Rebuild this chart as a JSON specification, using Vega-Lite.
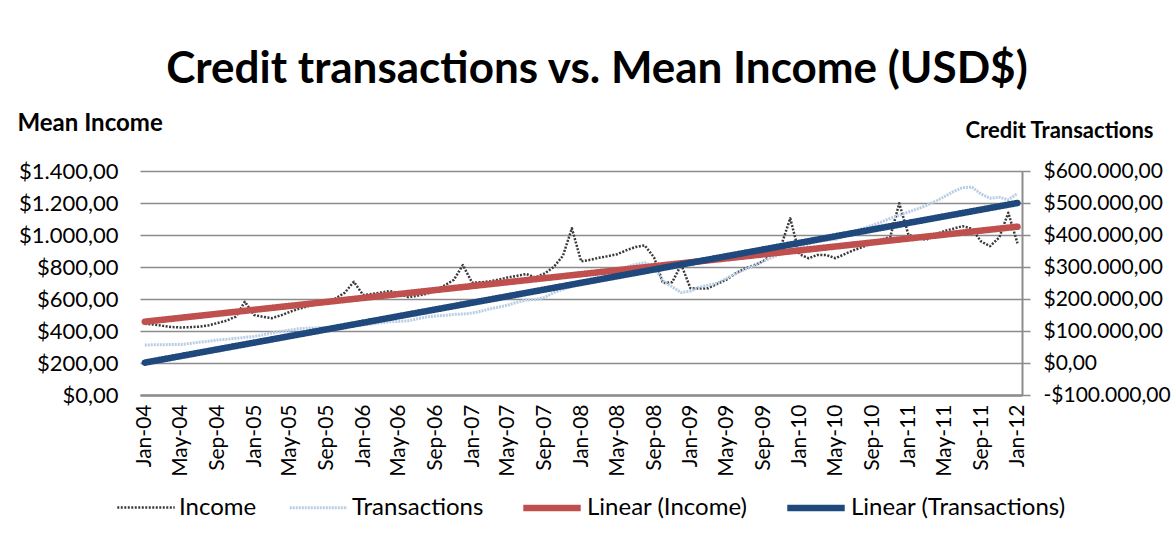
{
  "$schema": "https://vega.github.io/schema/vega-lite/v6.json",
  "width": 882,
  "height": 224,
  "autosize": "none",
  "padding": {"left": 140, "top": 171, "right": 154, "bottom": 145},
  "background": "white",
  "config": {
    "view": {"stroke": null},
    "font": "Lato",
    "axis": {"labelFont": "Lato", "titleFont": "Lato", "labelColor": "#000000", "titleColor": "#000000"}
  },
  "title": {
    "text": "Credit transactions vs. Mean Income (USD$)",
    "font": "Lato",
    "fontSize": 44,
    "fontWeight": "bold",
    "color": "#000000",
    "anchor": "middle",
    "dx": 16,
    "offset": 19
  },
  "datasets": {
    "m": [
      {"d": "2004-01", "i": 445, "t": 56000},
      {"d": "2004-02", "i": 440, "t": 57000},
      {"d": "2004-03", "i": 432, "t": 57000},
      {"d": "2004-04", "i": 425, "t": 58000},
      {"d": "2004-05", "i": 422, "t": 58000},
      {"d": "2004-06", "i": 424, "t": 61000},
      {"d": "2004-07", "i": 427, "t": 65000},
      {"d": "2004-08", "i": 435, "t": 68000},
      {"d": "2004-09", "i": 450, "t": 72000},
      {"d": "2004-10", "i": 465, "t": 74000},
      {"d": "2004-11", "i": 490, "t": 77000},
      {"d": "2004-12", "i": 583, "t": 80000},
      {"d": "2005-01", "i": 500, "t": 83000},
      {"d": "2005-02", "i": 488, "t": 88000},
      {"d": "2005-03", "i": 480, "t": 94000},
      {"d": "2005-04", "i": 498, "t": 99000},
      {"d": "2005-05", "i": 520, "t": 103000},
      {"d": "2005-06", "i": 540, "t": 107000},
      {"d": "2005-07", "i": 555, "t": 109000},
      {"d": "2005-08", "i": 570, "t": 110000},
      {"d": "2005-09", "i": 588, "t": 111000},
      {"d": "2005-10", "i": 604, "t": 112000},
      {"d": "2005-11", "i": 640, "t": 114000},
      {"d": "2005-12", "i": 708, "t": 116000},
      {"d": "2006-01", "i": 625, "t": 119000},
      {"d": "2006-02", "i": 632, "t": 122000},
      {"d": "2006-03", "i": 640, "t": 126000},
      {"d": "2006-04", "i": 650, "t": 129000},
      {"d": "2006-05", "i": 635, "t": 130000},
      {"d": "2006-06", "i": 612, "t": 132000},
      {"d": "2006-07", "i": 620, "t": 138000},
      {"d": "2006-08", "i": 632, "t": 144000},
      {"d": "2006-09", "i": 655, "t": 147000},
      {"d": "2006-10", "i": 685, "t": 149000},
      {"d": "2006-11", "i": 720, "t": 152000},
      {"d": "2006-12", "i": 812, "t": 153000},
      {"d": "2007-01", "i": 702, "t": 156000},
      {"d": "2007-02", "i": 705, "t": 162000},
      {"d": "2007-03", "i": 710, "t": 169000},
      {"d": "2007-04", "i": 722, "t": 175000},
      {"d": "2007-05", "i": 735, "t": 181000},
      {"d": "2007-06", "i": 745, "t": 190000},
      {"d": "2007-07", "i": 756, "t": 197000},
      {"d": "2007-08", "i": 735, "t": 198000},
      {"d": "2007-09", "i": 760, "t": 205000},
      {"d": "2007-10", "i": 800, "t": 220000},
      {"d": "2007-11", "i": 870, "t": 230000},
      {"d": "2007-12", "i": 1042, "t": 240000},
      {"d": "2008-01", "i": 835, "t": 248000},
      {"d": "2008-02", "i": 845, "t": 254000},
      {"d": "2008-03", "i": 858, "t": 260000},
      {"d": "2008-04", "i": 868, "t": 272000},
      {"d": "2008-05", "i": 880, "t": 288000},
      {"d": "2008-06", "i": 905, "t": 300000},
      {"d": "2008-07", "i": 925, "t": 308000},
      {"d": "2008-08", "i": 935, "t": 313000},
      {"d": "2008-09", "i": 860, "t": 300000},
      {"d": "2008-10", "i": 700, "t": 256000},
      {"d": "2008-11", "i": 705, "t": 238000},
      {"d": "2008-12", "i": 815, "t": 220000},
      {"d": "2009-01", "i": 667, "t": 225000},
      {"d": "2009-02", "i": 665, "t": 237000},
      {"d": "2009-03", "i": 667, "t": 243000},
      {"d": "2009-04", "i": 695, "t": 249000},
      {"d": "2009-05", "i": 720, "t": 264000},
      {"d": "2009-06", "i": 760, "t": 280000},
      {"d": "2009-07", "i": 790, "t": 292000},
      {"d": "2009-08", "i": 810, "t": 303000},
      {"d": "2009-09", "i": 835, "t": 318000},
      {"d": "2009-10", "i": 880, "t": 330000},
      {"d": "2009-11", "i": 935, "t": 341000},
      {"d": "2009-12", "i": 1104, "t": 352000},
      {"d": "2010-01", "i": 880, "t": 362000},
      {"d": "2010-02", "i": 854, "t": 372000},
      {"d": "2010-03", "i": 875, "t": 380000},
      {"d": "2010-04", "i": 875, "t": 384000},
      {"d": "2010-05", "i": 855, "t": 386000},
      {"d": "2010-06", "i": 880, "t": 397000},
      {"d": "2010-07", "i": 905, "t": 410000},
      {"d": "2010-08", "i": 925, "t": 420000},
      {"d": "2010-09", "i": 950, "t": 430000},
      {"d": "2010-10", "i": 970, "t": 440000},
      {"d": "2010-11", "i": 988, "t": 452000},
      {"d": "2010-12", "i": 1198, "t": 462000},
      {"d": "2011-01", "i": 1000, "t": 472000},
      {"d": "2011-02", "i": 985, "t": 482000},
      {"d": "2011-03", "i": 970, "t": 492000},
      {"d": "2011-04", "i": 1005, "t": 505000},
      {"d": "2011-05", "i": 1025, "t": 520000},
      {"d": "2011-06", "i": 1040, "t": 536000},
      {"d": "2011-07", "i": 1055, "t": 548000},
      {"d": "2011-08", "i": 1040, "t": 550000},
      {"d": "2011-09", "i": 960, "t": 528000},
      {"d": "2011-10", "i": 930, "t": 515000},
      {"d": "2011-11", "i": 985, "t": 518000},
      {"d": "2011-12", "i": 1139, "t": 510000},
      {"d": "2012-01", "i": 948, "t": 530000}
    ],
    "trend": [
      {"d": "2004-01", "li": 458, "lt": 1000},
      {"d": "2012-01", "li": 1052, "lt": 500000}
    ]
  },
  "layer": [
    {
      "data": {"name": "m"},
      "mark": {"type": "line", "strokeCap": "butt", "strokeJoin": "round", "strokeWidth": 2.5},
      "encoding": {
        "x": {
          "field": "d", "type": "temporal",
          "scale": {"type": "utc", "domain": [{"year": 2003, "month": 12, "date": 16, "utc": true}, {"year": 2012, "month": 1, "date": 16, "utc": true}]},
          "axis": {
            "orient": "bottom", "title": null, "tickCount": {"interval": "month", "step": 4},
            "format": "%b-%y", "labelAngle": -90, "labelPadding": 9, "labelFontSize": 21,
            "labelOverlap": false, "labelFlush": false, "ticks": false, "grid": false,
            "domainColor": "#8c8c8c", "domainWidth": 2.5
          }
        },
        "y": {
          "field": "i", "type": "quantitative",
          "scale": {"domain": [0, 1400], "nice": false, "zero": false},
          "axis": {
            "orient": "left", "values": [0, 200, 400, 600, 800, 1000, 1200, 1400],
            "grid": true, "gridColor": "#8c8c8c", "gridWidth": 1.5,
            "domain": false, "ticks": false, "labelPadding": 22, "labelFontSize": 22,
            "labelExpr": "'$' + replace(replace(replace(format(datum.value, ',.2f'), ',', '#'), '.', ','), '#', '.')",
            "title": "Mean Income", "titleAngle": 0, "titleAlign": "left", "titleBaseline": "middle",
            "titleX": -123, "titleY": -48, "titleFontSize": 24, "titleFontWeight": "bold"
          }
        },
        "color": {"datum": "Income", "type": "nominal",
          "scale": {"domain": ["Income", "Transactions", "Linear (Income)", "Linear (Transactions)"], "range": ["#3a3a3a", "#b9cde5", "#c0504d", "#1f497d"]},
          "legend": {
            "orient": "none", "legendX": -24, "legendY": 305, "direction": "horizontal", "title": null,
            "symbolType": "stroke", "symbolSize": 3300, "labelFontSize": 24, "labelFont": "Lato",
            "labelColor": "#000000", "columnPadding": 26, "labelOffset": 3, "padding": 0, "labelLimit": 400
          }
        },
        "strokeDash": {"datum": "Income", "type": "nominal",
          "scale": {"domain": ["Income", "Transactions", "Linear (Income)", "Linear (Transactions)"], "range": [[2, 1.5], [2, 1], [1, 0], [1, 0]]}},
        "strokeWidth": {"datum": "Income", "type": "ordinal",
          "scale": {"type": "ordinal", "domain": ["Income", "Transactions", "Linear (Income)", "Linear (Transactions)"], "range": [2.5, 3, 6.5, 6.5]}}
      }
    },
    {
      "data": {"name": "m"},
      "mark": {"type": "line", "strokeCap": "butt", "strokeJoin": "round", "strokeWidth": 3},
      "encoding": {
        "x": {"field": "d", "type": "temporal"},
        "y": {
          "field": "t", "type": "quantitative",
          "scale": {"domain": [-100000, 600000], "nice": false, "zero": false},
          "axis": {
            "orient": "right", "values": [-100000, 0, 100000, 200000, 300000, 400000, 500000, 600000],
            "grid": false, "domain": true, "domainColor": "#8c8c8c", "domainWidth": 2,
            "ticks": true, "tickSize": 8, "tickColor": "#8c8c8c", "tickWidth": 1.5,
            "labelPadding": 13, "labelFontSize": 21,
            "labelExpr": "(datum.value < 0 ? '-$' : '$') + replace(replace(replace(format(abs(datum.value), ',.2f'), ',', '#'), '.', ','), '#', '.')",
            "title": "Credit Transactions", "titleAngle": 0, "titleAlign": "left", "titleBaseline": "middle",
            "titleX": -57, "titleY": -41, "titleFontSize": 22, "titleFontWeight": "bold"
          }
        },
        "color": {"datum": "Transactions", "type": "nominal"},
        "strokeDash": {"datum": "Transactions", "type": "nominal"},
        "strokeWidth": {"datum": "Transactions", "type": "ordinal",
          "scale": {"type": "ordinal", "domain": ["Income", "Transactions", "Linear (Income)", "Linear (Transactions)"], "range": [2.5, 3, 6.5, 6.5]}}
      }
    },
    {
      "data": {"name": "trend"},
      "mark": {"type": "line", "strokeCap": "round", "strokeWidth": 6.5},
      "encoding": {
        "x": {"field": "d", "type": "temporal"},
        "y": {"field": "li", "type": "quantitative", "scale": {"domain": [0, 1400], "nice": false, "zero": false}, "axis": null},
        "color": {"datum": "Linear (Income)", "type": "nominal"},
        "strokeDash": {"datum": "Linear (Income)", "type": "nominal"},
        "strokeWidth": {"datum": "Linear (Income)", "type": "ordinal",
          "scale": {"type": "ordinal", "domain": ["Income", "Transactions", "Linear (Income)", "Linear (Transactions)"], "range": [2.5, 3, 6.5, 6.5]}}
      }
    },
    {
      "data": {"name": "trend"},
      "mark": {"type": "line", "strokeCap": "round", "strokeWidth": 6.5},
      "encoding": {
        "x": {"field": "d", "type": "temporal"},
        "y": {"field": "lt", "type": "quantitative", "scale": {"domain": [-100000, 600000], "nice": false, "zero": false}, "axis": null},
        "color": {"datum": "Linear (Transactions)", "type": "nominal"},
        "strokeDash": {"datum": "Linear (Transactions)", "type": "nominal"},
        "strokeWidth": {"datum": "Linear (Transactions)", "type": "ordinal",
          "scale": {"type": "ordinal", "domain": ["Income", "Transactions", "Linear (Income)", "Linear (Transactions)"], "range": [2.5, 3, 6.5, 6.5]}}
      }
    }
  ],
  "resolve": {"scale": {"y": "independent"}}
}
